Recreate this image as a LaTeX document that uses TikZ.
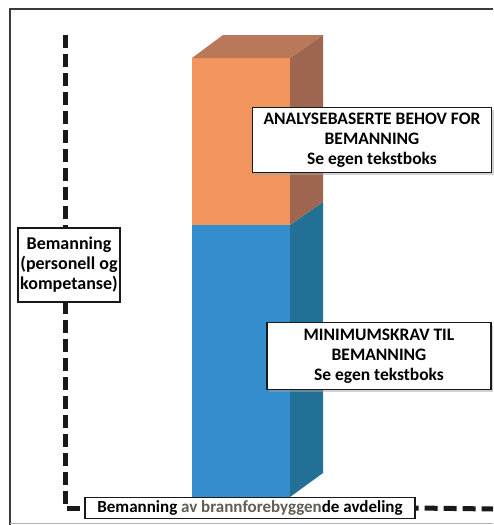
\documentclass[tikz,border=0pt]{standalone}
\usepackage{fontspec}
\setmainfont{Carlito}
\usetikzlibrary{shadows}
\definecolor{orfront}{RGB}{241,148,94}
\definecolor{ortop}{RGB}{186,120,90}
\definecolor{orside}{RGB}{158,102,80}
\definecolor{blfront}{RGB}{52,141,205}
\definecolor{blside}{RGB}{34,112,150}
\definecolor{framegray}{RGB}{60,60,60}
\definecolor{midgray}{RGB}{95,95,85}
\begin{document}
\begin{tikzpicture}[x=1pt,y=-1pt,
  tbox/.style={draw=black!90,line width=1.6pt,fill=white,align=center,inner sep=0pt,
    font=\fontsize{17.5}{20}\selectfont\bfseries,
    drop shadow={shadow xshift=2pt,shadow yshift=-2pt,fill=black!35}},
  axisline/.style={line width=5pt,dash pattern=on 13pt off 6pt,black!90}]
\useasboundingbox (0,0) rectangle (493,525);
% outer frame
\draw[framegray,line width=1.3pt] (10,525) -- (10,9) -- (493,9);
\draw[black!30,line width=0.8pt] (10,523) -- (493,523);
% bar: blue part
\fill[blfront] (192,225) rectangle (290,497);
\fill[blside] (290,225) -- (323,202) -- (323,473) -- (290,497) -- cycle;
% bar: orange part
\fill[orfront] (192,58) rectangle (290,225);
\fill[orside] (290,58) -- (323,35) -- (323,202) -- (290,225) -- cycle;
\fill[ortop] (192,58) -- (223,35) -- (323,35) -- (290,58) -- cycle;
% axis
\coordinate (axtop) at (65,35);
\coordinate (axright) at (493,509);
\node[draw=black!90,line width=1.1pt,fill=white,inner sep=0pt,minimum width=330,minimum height=21,
  font=\fontsize{17}{18}\selectfont\bfseries,anchor=center] (bbox) at (250,508)
  {Bemanning \textcolor{midgray}{av brannforebyggen}de avdeling};
\draw[axisline] (axtop) |- (bbox.west);
\draw[axisline,dash phase=10pt] (bbox.east) -- (axright);
% boxes
\node[tbox,minimum width=239,minimum height=65] (abox) at (372,140)
  {ANALYSEBASERTE BEHOV FOR\\BEMANNING\\Se egen tekstboks};
\node[tbox,minimum width=224,minimum height=67] (mbox) at (379,356)
  {MINIMUMSKRAV TIL\\BEMANNING\\Se egen tekstboks};
\node[draw=black!90,line width=1.2pt,fill=white,align=center,inner sep=0pt,
  minimum width=102,minimum height=74,font=\fontsize{18}{20}\selectfont\bfseries] (ybox) at (69,265)
  {Bemanning\\(personell og\\kompetanse)};
\end{tikzpicture}
\end{document}
